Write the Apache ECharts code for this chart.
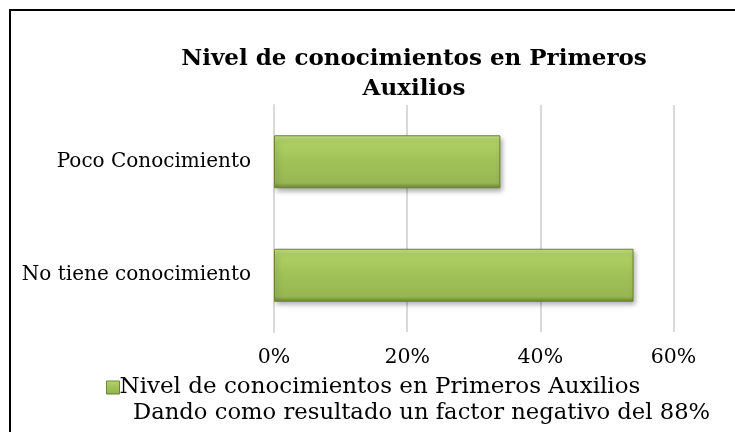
<!DOCTYPE html>
<html>
<head>
<meta charset="utf-8">
<script src="https://cdn.jsdelivr.net/npm/echarts@6/dist/echarts.min.js"></script>
<style>
  html, body { margin: 0; padding: 0; background: #fff; }
  #chart { width: 735px; height: 432px; }
</style>
</head>
<body>
<div id="chart"></div>
<script>
const categories = ['No tiene conocimiento', 'Poco Conocimiento']
const values = [54, 34]
const seriesName = 'Nivel de conocimientos en Primeros Auxilios'
const titleText = 'Nivel de conocimientos en Primeros\nAuxilios'
const noteText = 'Dando como resultado un factor negativo del 88%'

const font = 'DejaVu Serif'

const barFill = new echarts.graphic.LinearGradient(0, 0, 0, 1, [
  { offset: 0, color: '#c6e283' },
  { offset: 0.12, color: '#afd063' },
  { offset: 0.5, color: '#a0c157' },
  { offset: 0.9, color: '#97b652' },
  { offset: 1, color: '#6c8631' },
])

const myChart = echarts.init(document.getElementById('chart'))
const option = {
  animation: false,
  textStyle: { fontFamily: font },
  title: {
    text: titleText,
    left: 409,
    top: 39,
    textAlign: 'center',
    textStyle: { fontFamily: font, fontSize: 23, fontWeight: 'bold', color: '#000', lineHeight: 30, align: 'center' },
  },
  legend: {
    left: 101,
    top: 371,
    itemWidth: 13,
    itemHeight: 13,
    itemGap: 4,
    icon: 'rect',
    textStyle: { fontFamily: font, fontSize: 23, color: '#000', padding: [0, 0, 0, -5] },
    data: [{ name: seriesName, itemStyle: { color: barFill, borderColor: '#6c8631', borderWidth: 1 } }],
  },
  graphic: [
    {
      type: 'rect',
      shape: { x: 10, y: 10, width: 800, height: 600 },
      style: { fill: 'none', stroke: '#000', lineWidth: 2 },
    },
    {
      type: 'text',
      left: 133,
      top: 402,
      style: { text: noteText, fontFamily: font, fontSize: 22.7, fill: '#000' },
    },
  ],
  grid: { left: 274, right: 61.5, top: 105, height: 227 },
  xAxis: {
    type: 'value',
    min: 0,
    max: 60,
    interval: 20,
    axisLine: { show: false },
    axisTick: { show: false },
    splitLine: { lineStyle: { color: '#d9d9d9', width: 2 } },
    axisLabel: { formatter: '{value}%', fontFamily: font, fontSize: 20.5, color: '#000', margin: 15 },
  },
  yAxis: {
    type: 'category',
    data: categories,
    axisLine: { show: true, lineStyle: { color: '#d9d9d9', width: 2 } },
    axisTick: { show: false },
    axisLabel: { fontFamily: font, fontSize: 20, color: '#000', margin: 23, padding: [4, 0, 0, 0] },
  },
  series: [
    {
      name: seriesName,
      type: 'bar',
      data: values,
      barWidth: 53,
      itemStyle: {
        color: barFill,
        borderColor: '#6c8631',
        borderWidth: 1,
        shadowColor: 'rgba(0,0,0,0.35)',
        shadowBlur: 5,
        shadowOffsetX: 2,
        shadowOffsetY: 3,
      },
    },
  ],
}
myChart.setOption(option)
</script>
</body>
</html>
